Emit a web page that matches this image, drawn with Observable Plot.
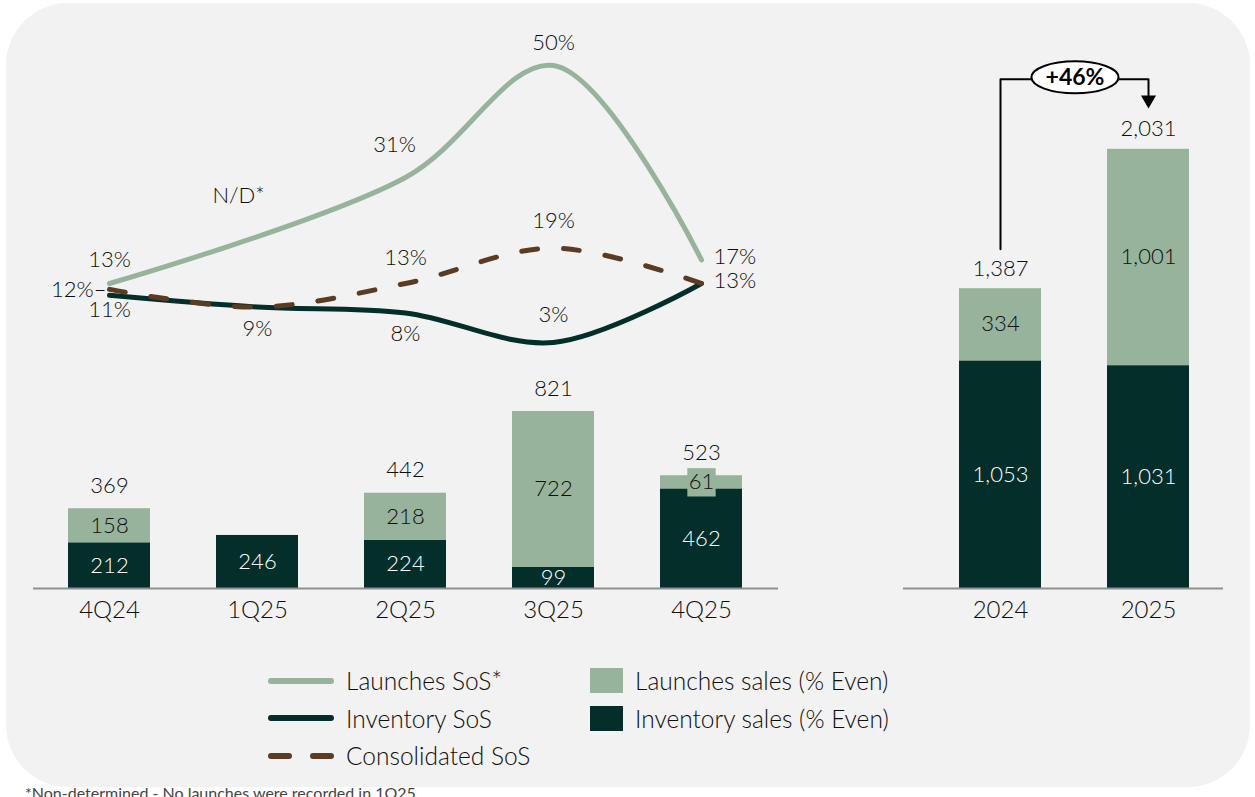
<!DOCTYPE html>
<html>
<head>
<meta charset="utf-8">
<script src="https://cdn.jsdelivr.net/npm/d3@7"></script>
<script src="https://cdn.jsdelivr.net/npm/@observablehq/plot@0.6"></script>
<style>
  html, body { margin: 0; padding: 0; background: #ffffff; }
  body { font-family: Lato, "Open Sans", sans-serif; color: #0d0d0d; font-weight: 300; }
  #wrap { position: relative; width: 1255px; height: 797px; overflow: hidden; background: #fff; }
  #panel { position: absolute; left: 6px; top: 3px; width: 1244px; height: 784px; background: #f2f2f2; border-radius: 62px; }
  .layer { position: absolute; left: 0; top: 0; }
  .legcol { position: absolute; top: 662px; }
  .legrow { height: 37.5px; display: flex; align-items: center; font-size: 24.5px; white-space: nowrap; }
  .legrow svg { margin-right: 12px; }
  .sq { width: 33px; height: 25px; margin-right: 12px; }
  #foot { position: absolute; left: 25px; top: 783px; font-size: 16px; color: #444; white-space: nowrap; font-weight: 400; }
</style>
</head>
<body>
<div id="wrap">
  <div id="panel"></div>
  <div id="bars" class="layer"></div>
  <div id="lines" class="layer"></div>
  <div id="years" class="layer"></div>
  <div id="legLines" class="legcol" style="left:268px"></div>
  <div id="legBars" class="legcol" style="left:590px"></div>
  <div id="foot"></div>
</div>
<script>
// ---------------- DATA ----------------
const quarters = ["4Q24", "1Q25", "2Q25", "3Q25", "4Q25"];
const launchesSales = [158, 0, 218, 722, 61];
const inventorySales = [212, 246, 224, 99, 462];
const quarterTotals = [369, 246, 442, 821, 523];
const launchesSoS = [13, null, 31, 50, 17];
const inventorySoS = [11, 9, 8, 3, 13];
const consolidatedSoS = [12, 9, 13, 19, 13];
const years = ["2024", "2025"];
const yearLaunches = [334, 1001];
const yearInventory = [1053, 1031];
const yearTotals = [1387, 2031];
const lineSeriesNames = ["Launches SoS*", "Inventory SoS", "Consolidated SoS"];
const barSeriesNames = ["Launches sales (% Even)", "Inventory sales (% Even)"];
const notDetermined = "N/D*";
const footnote = "*Non-determined - No launches were recorded in 1Q25.";

// ---------------- STYLE ----------------
const LIGHT = "#97b39b", DARK = "#032e29", BROWN = "#5b3b22", TEXT = "#0d0d0d";
const FONT = "Lato, 'Open Sans', sans-serif";
const fmt = d3.format(",");

function stackRows(cats, inv, lau) {
  const rows = [];
  cats.forEach((c, i) => {
    rows.push({cat: c, type: "Inventory", y1: 0, y2: inv[i], value: inv[i]});
    if (lau[i] > 0) rows.push({cat: c, type: "Launches", y1: inv[i], y2: inv[i] + lau[i], value: lau[i]});
  });
  return rows;
}
const mid = d => (d.y1 + d.y2) / 2;
const baseStyle = {background: "transparent", fontFamily: FONT, fontSize: "22px", fontWeight: 300, color: TEXT, overflow: "visible"};

// ---------------- QUARTERLY BARS ----------------
const qRows = stackRows(quarters, inventorySales, launchesSales);
const qTotals = quarters.map((q, i) => ({cat: q, top: inventorySales[i] + launchesSales[i], total: quarterTotals[i], show: launchesSales[i] > 0})).filter(d => d.show);
const barsLeft = Plot.plot({
  width: 1255, height: 797, marginLeft: 33, marginRight: 1255 - 778, marginTop: 0, marginBottom: 797 - 588,
  style: baseStyle,
  x: {type: "band", domain: quarters, range: [33, 777], paddingInner: 0.443, paddingOuter: 0.2215, label: null},
  y: {domain: [0, 821], range: [588, 411], axis: null},
  color: {domain: ["Launches", "Inventory"], range: [LIGHT, DARK]},
  marks: [
    Plot.barY(qRows, {x: "cat", y1: "y1", y2: "y2", fill: "type"}),
    Plot.dot(qRows.filter(d => d.type === "Launches" && d.value < 100), {x: "cat", y: mid, symbol: "square", r: 16, fill: LIGHT, stroke: "none"}),
    Plot.text(qRows.filter(d => d.type === "Inventory"), {x: "cat", y: mid, text: d => fmt(d.value), fill: "white"}),
    Plot.text(qRows.filter(d => d.type === "Launches"), {x: "cat", y: mid, text: d => fmt(d.value), fill: TEXT}),
    Plot.text(qTotals, {x: "cat", y: "top", text: d => fmt(d.total), dy: -23, fill: TEXT}),
    Plot.ruleY([0], {stroke: "#8f8f8f", strokeWidth: 2}),
    Plot.axisX({tickSize: 0, tickPadding: 12, fontSize: 24, label: null})
  ]
});
document.getElementById("bars").append(barsLeft);

// ---------------- LINES ----------------
const pts = vals => quarters.map((q, i) => ({q, v: vals[i]})).filter(d => d.v != null);
// label placement (style only): [dx, dy, anchor]
const labelStyle = {
  "L-4Q24": [0, -24, "middle"], "L-1Q25": [-19, -35, "middle"], "L-2Q25": [-11, -32, "middle"],
  "L-3Q25": [0, -23, "middle"], "L-4Q25": [12, -3, "start"],
  "I-4Q24": [0, 15, "middle"], "I-1Q25": [0, 22, "middle"], "I-2Q25": [0, 21, "middle"],
  "I-3Q25": [0, -27, "middle"], "I-4Q25": [12, -3, "start"],
  "C-4Q24": [-3, 1, "end"], "C-2Q25": [0, -26, "middle"], "C-3Q25": [0, -27, "middle"]
};
const labels = [];
quarters.forEach((q, i) => {
  if (launchesSoS[i] == null) {
    const prev = launchesSoS[i - 1], next = launchesSoS[i + 1];
    labels.push({key: "L-" + q, q, v: (prev + next) / 2, text: notDetermined});
  } else labels.push({key: "L-" + q, q, v: launchesSoS[i], text: launchesSoS[i] + "%"});
  labels.push({key: "I-" + q, q, v: inventorySoS[i], text: inventorySoS[i] + "%"});
  labels.push({key: "C-" + q, q, v: consolidatedSoS[i], text: consolidatedSoS[i] + "%" + (i === 0 ? "–" : "")});
});
const shown = labels.filter(d => labelStyle[d.key]);
const lineChart = Plot.plot({
  width: 1255, height: 797, margin: 0,
  style: baseStyle,
  x: {type: "point", domain: quarters, range: [107.4, 702.6], padding: 0, axis: null},
  y: {domain: [0, 50], range: [359.6, 65], axis: null},
  marks: [
    Plot.line(pts(launchesSoS), {x: "q", y: "v", stroke: LIGHT, strokeWidth: 5, curve: "catmull-rom", strokeLinecap: "round"}),
    Plot.line(pts(inventorySoS), {x: "q", y: "v", stroke: DARK, strokeWidth: 5, curve: "catmull-rom", strokeLinecap: "round"}),
    Plot.line(pts(consolidatedSoS), {x: "q", y: "v", stroke: BROWN, strokeWidth: 5, curve: "catmull-rom", strokeDasharray: "16,26", strokeLinecap: "round"}),
    ...shown.map(d => {
      const [dx, dy, anchor] = labelStyle[d.key];
      return Plot.text([d], {x: "q", y: "v", text: "text", dx, dy, textAnchor: anchor, fill: TEXT});
    })
  ]
});
document.getElementById("lines").append(lineChart);

// ---------------- ANNUAL BARS ----------------
const yRows = stackRows(years, yearInventory, yearLaunches);
const yTotals = years.map((y, i) => ({cat: y, top: yearInventory[i] + yearLaunches[i], total: yearTotals[i]}));
const maxT = d3.max(yearTotals);
const bracketTop = maxT * 1.16;
const arrowY = yearTotals[1] + maxT * 0.113;
const bracket = [
  {cat: years[0], y: yearTotals[0] + maxT * 0.09},
  {cat: years[0], y: bracketTop},
  {cat: years[1], y: bracketTop},
  {cat: years[1], y: arrowY}
];
const growth = "+" + d3.format(".0%")(yearTotals[1] / yearTotals[0] - 1);
const ellipse = {
  draw(ctx, size) {
    const r = Math.sqrt(size / Math.PI), rx = r * 1.36, ry = r * 0.5, k = 0.5523;
    ctx.moveTo(rx, 0);
    ctx.bezierCurveTo(rx, k * ry, k * rx, ry, 0, ry);
    ctx.bezierCurveTo(-k * rx, ry, -rx, k * ry, -rx, 0);
    ctx.bezierCurveTo(-rx, -k * ry, -k * rx, -ry, 0, -ry);
    ctx.bezierCurveTo(k * rx, -ry, rx, -k * ry, rx, 0);
    ctx.closePath();
  }
};
const barsRight = Plot.plot({
  width: 1255, height: 797, marginLeft: 903, marginRight: 1255 - 1223, marginTop: 0, marginBottom: 797 - 588,
  style: baseStyle,
  x: {type: "band", domain: years, range: [925, 1222.5], paddingInner: 0.443, paddingOuter: 0.2215, label: null},
  y: {domain: [0, 2031], range: [588, 149], axis: null},
  color: {domain: ["Launches", "Inventory"], range: [LIGHT, DARK]},
  marks: [
    Plot.barY(yRows, {x: "cat", y1: "y1", y2: "y2", fill: "type"}),
    Plot.text(yRows.filter(d => d.type === "Inventory"), {x: "cat", y: mid, text: d => fmt(d.value), fill: "white"}),
    Plot.text(yRows.filter(d => d.type === "Launches"), {x: "cat", y: mid, text: d => fmt(d.value), dy: -1, fill: TEXT}),
    Plot.text(yTotals, {x: "cat", y: "top", text: d => fmt(d.total), dy: -20, fill: TEXT}),
    Plot.ruleY([0], {stroke: "#8f8f8f", strokeWidth: 2}),
    Plot.axisX({tickSize: 0, tickPadding: 12, fontSize: 24, label: null}),
    Plot.line(bracket, {x: "cat", y: "y", stroke: "#000", strokeWidth: 2}),
    Plot.dot([bracket[3]], {x: "cat", y: "y", symbol: "triangle", rotate: 180, r: 5.6, fill: "#000", stroke: "none"}),
    Plot.dot([bracket[1]], {x: "cat", y: "y", dx: 74.5, dy: -2, symbol: ellipse, r: 32, fill: "white", stroke: "#000", strokeWidth: 2}),
    Plot.text([bracket[1]], {x: "cat", y: "y", dx: 74.5, dy: -2, text: () => growth, fontWeight: "bold", fontSize: 23, fill: "#000"})
  ]
});
document.getElementById("years").append(barsRight);

// ---------------- LEGEND ----------------
const legLines = document.getElementById("legLines");
const lineSw = [
  `<line x1="3" y1="5" x2="63" y2="5" stroke="${LIGHT}" stroke-width="6" stroke-linecap="round"/>`,
  `<line x1="3" y1="5" x2="63" y2="5" stroke="${DARK}" stroke-width="6" stroke-linecap="round"/>`,
  `<line x1="3" y1="5" x2="63" y2="5" stroke="${BROWN}" stroke-width="6" stroke-linecap="round" stroke-dasharray="18,24"/>`
];
lineSeriesNames.forEach((n, i) => {
  const row = document.createElement("div");
  row.className = "legrow";
  row.innerHTML = `<svg width="66" height="10">${lineSw[i]}</svg><span>${n}</span>`;
  legLines.append(row);
});
const legBars = document.getElementById("legBars");
[LIGHT, DARK].forEach((c, i) => {
  const row = document.createElement("div");
  row.className = "legrow";
  row.innerHTML = `<div class="sq" style="background:${c}"></div><span>${barSeriesNames[i]}</span>`;
  legBars.append(row);
});
document.getElementById("foot").textContent = footnote;
</script>
</body>
</html>
